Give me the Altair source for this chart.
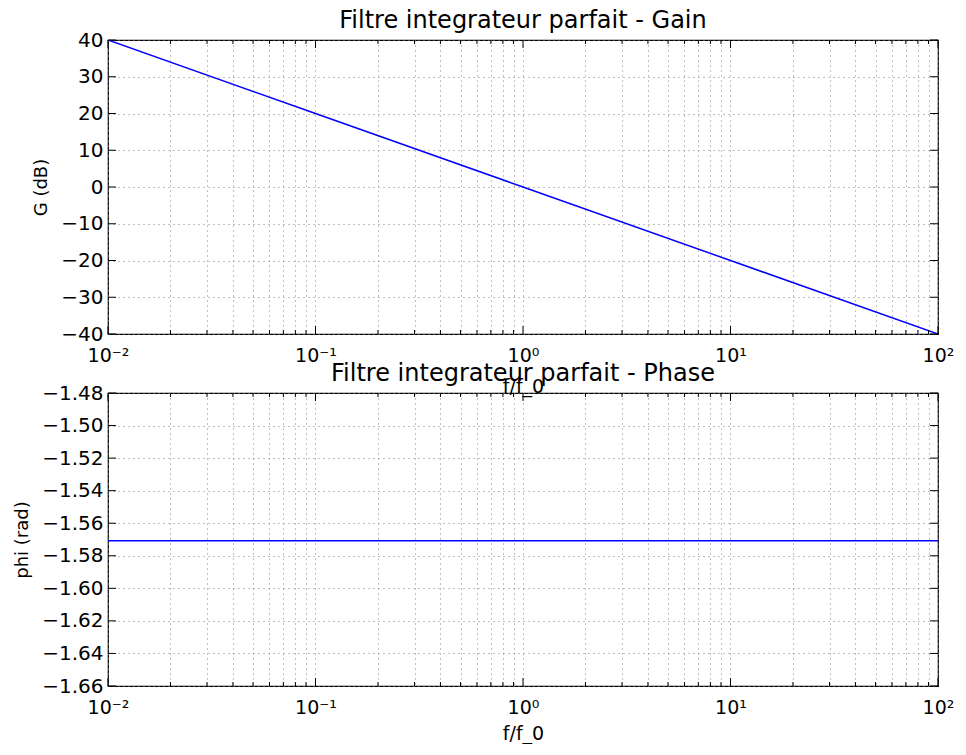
import altair as alt
import pandas as pd

# ---- data ----
freq = [0.01, 0.1, 1, 10, 100]
gain_db = [40, 20, 0, -20, -40]
phase_rad = [-1.5708, -1.5708, -1.5708, -1.5708, -1.5708]

x_major = [0.01, 0.1, 1, 10, 100]
x_minor = [0.02, 0.03, 0.04, 0.05, 0.06, 0.07, 0.08, 0.09,
           0.2, 0.3, 0.4, 0.5, 0.6, 0.7, 0.8, 0.9,
           2, 3, 4, 5, 6, 7, 8, 9,
           20, 30, 40, 50, 60, 70, 80, 90]
gain_ticks = [-40, -30, -20, -10, 0, 10, 20, 30, 40]
phase_ticks = [-1.66, -1.64, -1.62, -1.60, -1.58, -1.56, -1.54, -1.52, -1.50, -1.48]

W = 830
FONT = "DejaVu Sans"
MAJ = 8
MIN = 4

x_label_expr = ("datum.value == 0.01 ? '10⁻²' : datum.value == 0.1 ? '10⁻¹' : "
                "datum.value == 1 ? '10⁰' : datum.value == 10 ? '10¹' : "
                "datum.value == 100 ? '10²' : ''")


def panel(yvals, ydomain, yticks, yfmt, ytitle, title, H, xtitle_pad):
    xscale = alt.Scale(type="log", domain=[0.01, 100], nice=False)
    yscale = alt.Scale(domain=ydomain, nice=False, zero=False)
    xaxis = alt.Axis(values=x_major + x_minor, labelExpr=x_label_expr, title="f/f_0",
                     labelOverlap=False, labelFlush=False, labelPadding=12,
                     labelFontSize=19, titlePadding=xtitle_pad, titleFontSize=19)
    yaxis = alt.Axis(values=yticks, format=yfmt, title=ytitle, labelOverlap=False,
                     labelFlush=False, labelPadding=5, titlePadding=10, titleFontSize=18)
    X = alt.X("f:Q", scale=xscale, axis=xaxis)
    Y = alt.Y("v:Q", scale=yscale, axis=yaxis)

    df = pd.DataFrame({"f": freq, "v": yvals})
    dmaj = pd.DataFrame({"f": x_major})
    dmin = pd.DataFrame({"f": x_minor})
    dy = pd.DataFrame({"v": yticks})

    line = alt.Chart(df).mark_line(color="#0000ff", strokeWidth=1.5, clip=True).encode(x=X, y=Y)
    rule = dict(color="black", strokeWidth=1)
    layers = [line]
    for d, L in ((dmaj, MAJ), (dmin, MIN)):
        layers.append(alt.Chart(d).mark_rule(**rule).encode(x=X, y=alt.value(H), y2=alt.value(H - L)))
        layers.append(alt.Chart(d).mark_rule(**rule).encode(x=X, y=alt.value(0), y2=alt.value(L)))
    layers.append(alt.Chart(dy).mark_rule(**rule).encode(y=Y, x=alt.value(0), x2=alt.value(MAJ)))
    layers.append(alt.Chart(dy).mark_rule(**rule).encode(y=Y, x=alt.value(W), x2=alt.value(W - MAJ)))

    return alt.layer(*layers).properties(
        width=W, height=H,
        title=alt.TitleParams(title, fontSize=24, font=FONT, fontWeight="normal",
                              color="black", anchor="middle", offset=-3),
    )


top = panel(gain_db, [-40, 40], gain_ticks, "d", "G (dB)",
            "Filtre integrateur parfait - Gain", 294, 12)
bottom = panel(phase_rad, [-1.66, -1.48], phase_ticks, ".2f", "phi (rad)",
               "Filtre integrateur parfait - Phase", 293, 7)

chart = alt.vconcat(top, bottom, spacing=59, bounds="flush").properties(
    padding={"left": 5, "top": 0, "right": 0, "bottom": 0},
    background="white",
).configure_view(
    stroke="black", strokeWidth=1.2
).configure_axis(
    labelFont=FONT, labelFontSize=20, labelColor="black",
    titleFont=FONT, titleFontSize=18, titleFontWeight="normal", titleColor="black",
    domain=False, ticks=False, tickSize=0,
    grid=True, gridColor="#808080", gridDash=[1, 4], gridWidth=1,
)

chart.save("out.html", embed_options={"renderer": "svg", "actions": False})
